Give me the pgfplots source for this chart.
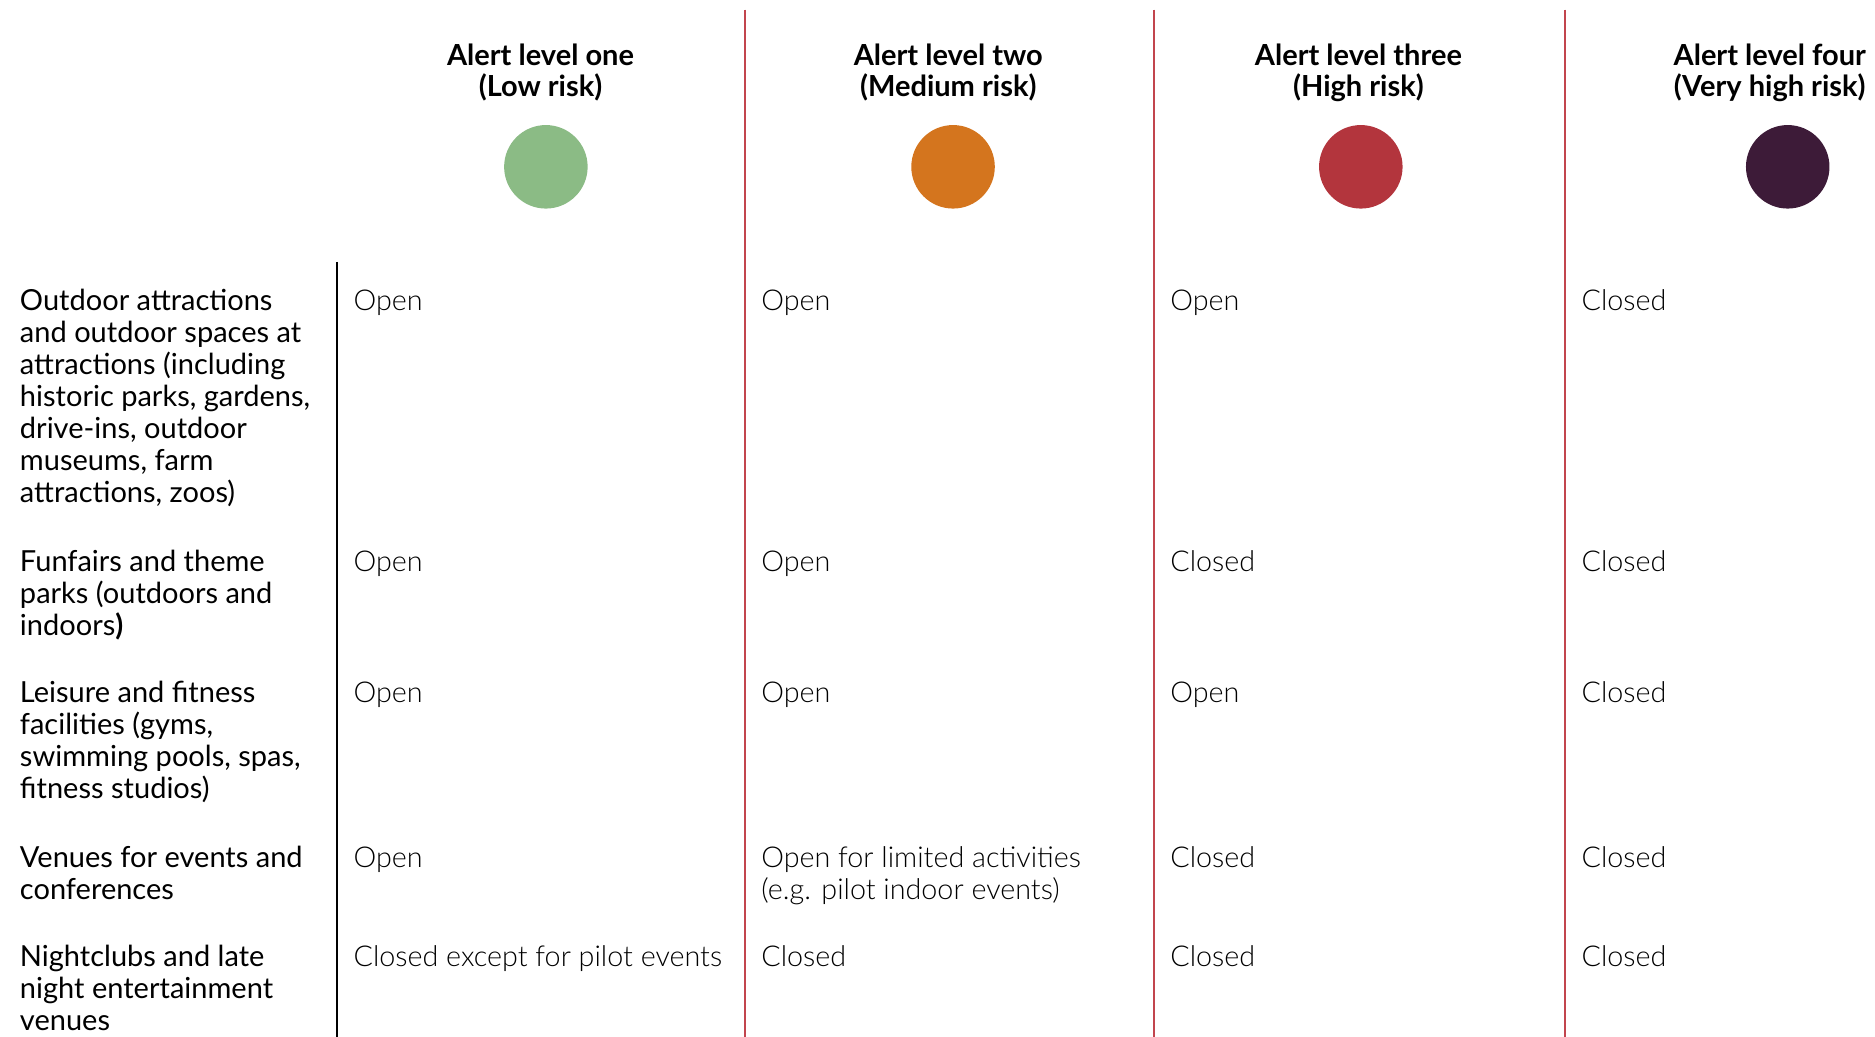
\documentclass[border=0pt]{standalone}
\usepackage{fontspec}
\setmainfont{Lato}
\newfontfamily\lightfont{Lato Light}
\usepackage{pgfplots}
\pgfplotsset{compat=1.18}
\definecolor{lvone}{HTML}{8BBB85}
\definecolor{lvtwo}{HTML}{D4751E}
\definecolor{lvthree}{HTML}{B3353D}
\definecolor{lvfour}{HTML}{3D1B38}
\definecolor{rule}{HTML}{C2454E}
\definecolor{celltext}{HTML}{000000}
\begin{document}
\begin{tikzpicture}[
  lab/.style={anchor=base west, inner sep=0pt, font=\fontsize{6.9}{7.6}\selectfont, text=black},
  cell/.style={anchor=base west, inner sep=0pt, font=\lightfont\fontsize{6.83}{7.6}\selectfont, text=celltext},
  head/.style={anchor=base, inner sep=0pt, font=\bfseries\fontsize{6.9}{7.6}\selectfont, text=black},
]
\begin{axis}[
  x=0.01cm, y=0.01cm, y dir=reverse,
  xmin=0, xmax=1568, ymin=0, ymax=867,
  hide axis, clip=true,
]
% table rules
\addplot[draw=black, line width=0.6pt, no marks] coordinates {(282,219) (282,867)};
\addplot[draw=rule, line width=0.55pt, no marks] coordinates {(623,8) (623,867)};
\addplot[draw=rule, line width=0.55pt, no marks] coordinates {(965,8) (965,867)};
\addplot[draw=rule, line width=0.55pt, no marks] coordinates {(1309,8) (1309,867)};
% alert level circles
\addplot[only marks, mark=*, mark size=9.73pt, color=lvone] coordinates {(456.5,139.5)};
\addplot[only marks, mark=*, mark size=9.73pt, color=lvtwo] coordinates {(797,139.5)};
\addplot[only marks, mark=*, mark size=9.73pt, color=lvthree] coordinates {(1138,139.5)};
\addplot[only marks, mark=*, mark size=9.73pt, color=lvfour] coordinates {(1495,139.5)};
% headers
\node[head] at (axis cs:452,54.4) {Alert level one};
\node[head] at (axis cs:452,81) {(Low risk)};
\node[head] at (axis cs:793,54.4) {Alert level two};
\node[head] at (axis cs:793,81) {(Medium risk)};
\node[head] at (axis cs:1136,54.4) {Alert level three};
\node[head] at (axis cs:1136,81) {(High risk)};
\node[head] at (axis cs:1480,54.4) {Alert level four};
\node[head] at (axis cs:1480,81) {(Very high risk)};
% row labels
\node[lab] at (axis cs:16,259.5) {Outdoor attractions};
\node[lab] at (axis cs:16,286.3) {and outdoor spaces at};
\node[lab] at (axis cs:16,313.1) {attractions (including};
\node[lab] at (axis cs:16,339.9) {historic parks, gardens,};
\node[lab] at (axis cs:16,366.7) {drive-ins, outdoor};
\node[lab] at (axis cs:16,393.5) {museums, farm};
\node[lab] at (axis cs:16,420.3) {attractions, zoos)};
\node[lab] at (axis cs:16,477.5) {Funfairs and theme};
\node[lab] at (axis cs:16,504.3) {parks (outdoors and};
\node[lab] at (axis cs:16,531.1) {indoors\textbf{)}};
\node[lab] at (axis cs:16,587.5) {Leisure and fitness};
\node[lab] at (axis cs:16,614.3) {facilities (gyms,};
\node[lab] at (axis cs:16,641.1) {swimming pools, spas,};
\node[lab] at (axis cs:16,667.9) {fitness studios)};
\node[lab] at (axis cs:16,725.5) {Venues for events and};
\node[lab] at (axis cs:16,752.3) {conferences};
\node[lab] at (axis cs:16,808.5) {Nightclubs and late};
\node[lab] at (axis cs:16,835.3) {night entertainment};
\node[lab] at (axis cs:16,862.1) {venues};
% cells: row 1
\node[cell] at (axis cs:295,259.5) {Open};
\node[cell] at (axis cs:636,259.5) {Open};
\node[cell] at (axis cs:978,259.5) {Open};
\node[cell] at (axis cs:1322,259.5) {Closed};
% row 2
\node[cell] at (axis cs:295,477.5) {Open};
\node[cell] at (axis cs:636,477.5) {Open};
\node[cell] at (axis cs:978,477.5) {Closed};
\node[cell] at (axis cs:1322,477.5) {Closed};
% row 3
\node[cell] at (axis cs:295,587.5) {Open};
\node[cell] at (axis cs:636,587.5) {Open};
\node[cell] at (axis cs:978,587.5) {Open};
\node[cell] at (axis cs:1322,587.5) {Closed};
% row 4
\node[cell] at (axis cs:295,725.5) {Open};
\node[cell] at (axis cs:636,725.5) {Open for limited activities};
\node[cell] at (axis cs:636,752.3) {(e.g. pilot indoor events)};
\node[cell] at (axis cs:978,725.5) {Closed};
\node[cell] at (axis cs:1322,725.5) {Closed};
% row 5
\node[cell] at (axis cs:295,808.5) {Closed except for pilot events};
\node[cell] at (axis cs:636,808.5) {Closed};
\node[cell] at (axis cs:978,808.5) {Closed};
\node[cell] at (axis cs:1322,808.5) {Closed};
\end{axis}
\pgfresetboundingbox
\path (current axis.south west) rectangle (current axis.north east);
\end{tikzpicture}
\end{document}
